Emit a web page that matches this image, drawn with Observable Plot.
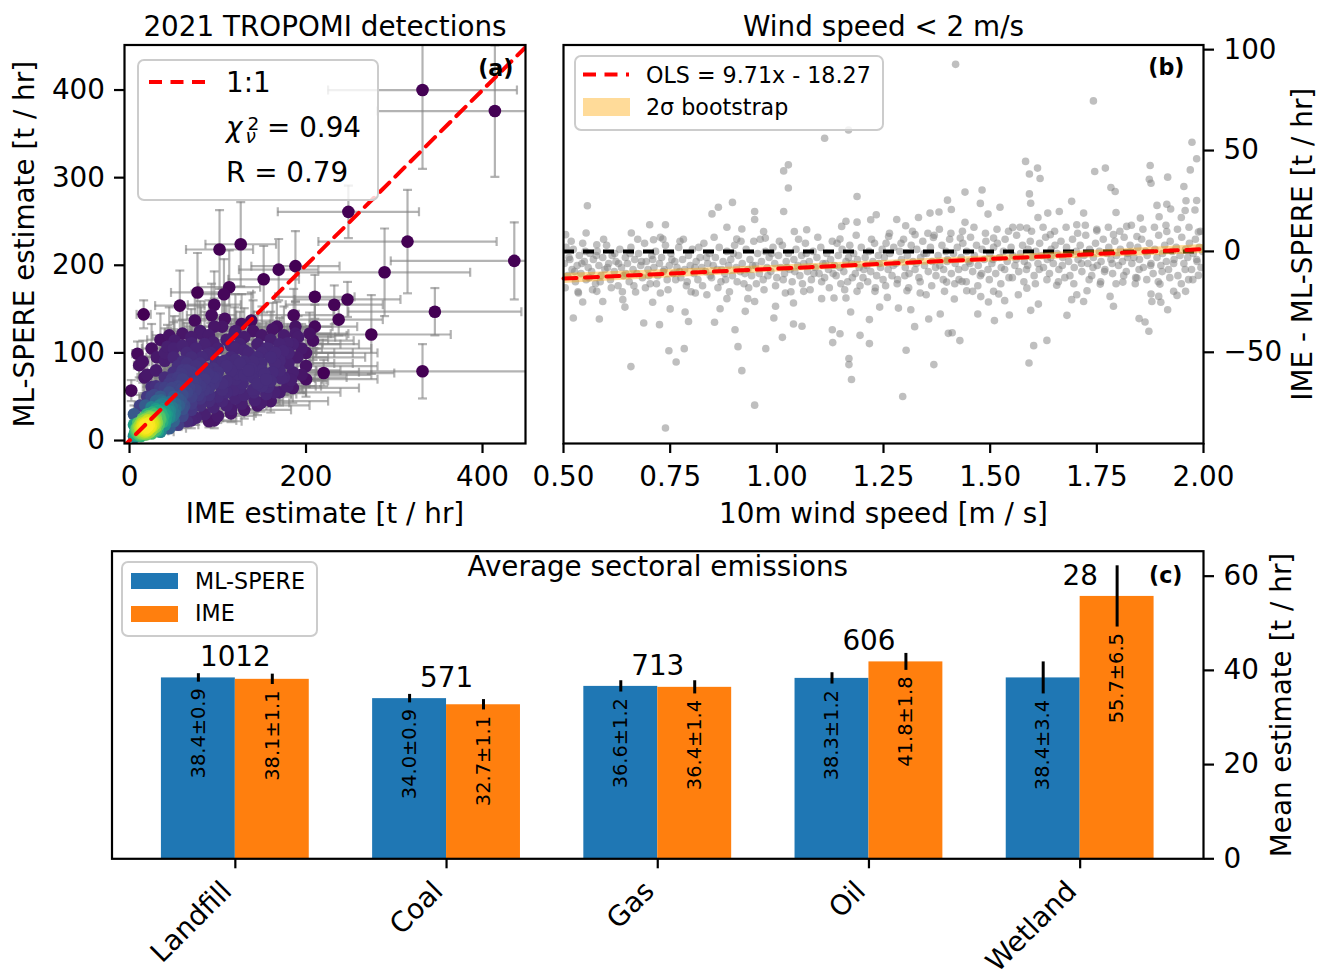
<!DOCTYPE html>
<html><head><meta charset="utf-8">
<script src="https://cdn.jsdelivr.net/npm/d3@7"></script>
<script src="https://cdn.jsdelivr.net/npm/@observablehq/plot@0.6"></script>
<style>
body{margin:0;background:#fff;}
#fig{position:relative;width:1319px;height:969px;overflow:hidden;background:#fff;font-family:"DejaVu Sans",sans-serif;}
#fig svg{position:absolute;left:0;top:0;}
</style></head><body><div id="fig"></div><script>
// ================= DATA =================
// Panel (a): [IME estimate, ML-SPERE estimate, IME error, ML-SPERE error]  (t/hr)
const imeDetections = [
[332,400,107,90],[414,376,133,75],[248,261,80,30],[315,227,101,59],[436,205,140,44],[289,192,97,50],
[346,147,98,27],[274,121,90,45],[332,79,120,31],[220,77,80,15],[247,161,60,20],[232,155,55,22],
[237,138,50,18],[210,164,45,25],[188,199,50,40],[169,195,45,35],[152,184,40,38],[126,224,40,48],
[102,218,38,45],[77,169,30,45],[57,154,28,40],[16,144,8,16],[113,175,35,42],[107,167,33,40],
[96,155,30,38],[186,143,45,30],[188,130,42,28],[210,130,48,25],[204,122,44,24],[208,114,46,22],
[188,122,40,26],[162,127,38,30],[167,130,40,28],[157,105,38,25],[138,137,35,32],[191,118,42,24],
[179,111,40,22],[174,102,38,20],[183,69,40,14],[179,62,38,12],[164,55,36,12],[155,53,34,11],
[149,43,32,10],[141,55,32,12],[115,36,28,9],[138,82,32,18],[153,76,34,16],[162,78,36,16],
[170,91,38,18],[149,88,34,18],[9,99,6,14],[11,86,6,14],[2,57,4,12],[31,95,12,22],[43,107,15,25],
[51,114,18,28],[60,122,20,30],[74,137,25,34],[93,143,28,36],[108,139,30,35],[127,133,32,34],
[81,122,25,30],[96,130,28,32],[119,122,30,30],[70,111,22,28],[40,91,14,22],[17,72,8,18],
[25,61,10,16],[36,46,12,14],[51,31,16,11],[70,23,20,9],[96,23,25,9],[115,31,28,10],[127,42,30,12],
[142,46,32,13],[157,61,35,15],[172,71,38,16],[123,76,30,18],[108,91,28,22],[130,103,32,25],
[89,76,25,18],[59,76,18,18],[32,11,12,6],[17,8,8,5],[6,4,4,4],
[8,6,5,4],[12,10,6,5],[15,12,7,6],[18,14,8,6],[20,16,9,7],[14,8,6,5],[10,12,5,6],[22,18,10,8],
[16,16,7,7],[25,20,11,8],[12,14,6,6],[18,10,8,5],[24,15,10,7],[20,22,9,9],[28,22,12,9],[6,8,4,5],
[9,9,5,5],[13,5,6,4],[17,19,8,8],[21,12,9,6],[26,25,11,10],[30,26,13,10],[11,16,6,7],[15,20,7,8],
[19,7,8,4],[23,10,10,5],[27,17,12,8],[31,20,13,8],[8,14,5,6],[34,28,14,11],[36,32,15,12],
[40,30,17,12],[38,36,16,13],[44,34,18,13],[42,40,18,15],[48,38,20,14],[46,44,20,16],[52,42,22,15],
[55,48,23,17],[50,50,21,18],[58,45,24,16],[60,52,25,18],[35,24,15,10],[40,22,17,9],[32,34,14,13],
[28,30,12,12],[45,28,19,11],[50,32,21,12],[62,40,26,15],[65,55,27,19],[70,50,29,18],[68,60,28,21],
[75,58,31,20],[72,66,30,23],[80,62,33,22],[85,70,35,24],[78,75,32,26],[90,60,37,21],[95,72,39,25],
[88,82,36,28],[100,78,41,27],[105,65,43,23],[110,85,45,29],[98,90,40,31],[92,100,38,34],
[115,95,47,32],[120,70,49,24],[60,70,25,24],[55,62,23,22],[65,80,27,27],[75,85,31,29],[82,95,34,32],
[70,95,29,32],[55,85,23,29],[48,70,20,24],[40,60,17,21],[30,45,13,16],[25,38,11,14],[35,50,15,18],
[45,55,19,19],[20,30,9,11],[15,25,7,10],[10,20,5,8],[30,12,13,6],[40,18,17,8],[50,22,21,9],
[60,28,25,11],[70,35,29,13],[80,40,33,15],[90,45,37,16],[100,50,41,18],[110,55,45,19],[125,60,51,21],
[130,75,53,26],[140,90,57,31],[135,100,55,34],[125,110,51,37],[110,115,45,39],[100,105,41,36],
[85,110,35,37],[75,105,31,36],[65,100,27,34],[60,90,25,31],[50,95,21,32],[145,65,59,23],[150,80,61,27],
[160,95,65,32],[145,110,59,37],[120,125,49,42],[90,120,37,40],[105,130,43,43],
[14,13,6,5],[16,11,7,5],[13,11,6,5],[17,13,7,6],[15,15,7,6],[19,12,8,6],[11,9,5,4],[22,14,9,6],
[14,17,6,7],[18,17,8,7],[12,7,6,4],[21,19,9,8],[24,21,10,8],[26,19,11,8],[16,9,7,5],[9,12,5,5],
[27,24,12,9],[33,27,14,10],[23,26,10,10],[29,19,12,8],
[110,40,45,12],[120,48,49,14],[130,52,53,15],[140,58,57,17],[150,62,61,18],[160,68,65,20],[170,80,69,22],
[180,88,73,24],[190,95,77,26],[195,105,79,28],[180,100,73,27],[170,110,69,30],[160,115,65,32],
[150,120,61,33],[140,125,57,35],[130,118,53,33],[120,105,49,30],[115,80,47,23],[125,88,51,25],
[135,80,55,23],[145,95,59,27],[155,105,63,30],[165,88,67,25],[175,72,71,20],[185,78,75,22],
[200,85,81,24],[195,75,79,21],[155,70,63,20],[140,72,57,20],[128,65,52,18],[118,58,48,16],
[105,45,43,13],[95,38,39,11],[85,30,35,9],[75,26,31,8],[65,22,27,7],[55,18,23,6],[45,14,19,5],
[35,10,15,4],[25,8,11,4],[90,52,37,15],[80,48,33,14],[70,42,29,12],[60,36,25,11],[105,58,43,16],
[95,65,39,18],[85,58,35,16],[75,68,31,19],[105,88,43,25],[95,82,39,23],[80,88,33,25],[70,78,29,22],
[60,80,25,23],[50,78,21,22],[40,72,17,20],[30,62,13,18],[20,50,9,14],[12,40,6,12],[5,30,4,10],
[5,18,4,7],[25,50,11,15],[35,60,15,18],[45,65,19,19],[55,72,23,21],[65,88,27,25],[50,105,21,30],
[40,100,17,28],[30,80,13,23],[20,75,9,21],[15,90,7,24],[25,105,11,28],[35,115,15,30],[45,120,19,32],
[60,108,25,30],[70,118,29,32],[80,125,33,34],[95,112,39,31],[115,108,47,30],[130,90,53,25],
[150,100,61,28],[165,100,67,28],[175,120,71,33],[185,110,75,30],[200,100,81,28],[200,70,81,20],
[185,60,75,17],[170,55,69,15],[160,45,65,13],[145,40,59,11],[130,35,53,10],[100,28,41,8],[90,22,37,7],
[110,68,45,19],[120,92,49,26],[88,98,36,28],[60,60,25,18],[48,60,20,17],[28,52,12,15],[18,40,8,12],
[38,42,16,12],[58,58,24,16],[78,52,32,15],[98,72,40,20],
[5,5,4,3],[7,10,4,4],[10,7,5,4],[13,15,6,6],[16,13,7,5],[18,18,8,7],[20,13,9,6],[22,20,10,8],
[24,17,10,7],[26,22,11,9],[28,26,12,10],[30,23,13,9],[32,28,14,10],[34,25,15,10],[36,30,15,11],
[38,27,16,10],[40,34,17,12],[42,30,18,11],[44,38,18,13],[46,34,19,12],[12,18,6,7],[10,15,5,6],
[8,11,5,5],[14,22,6,8],[18,24,8,9],[22,28,10,10],[26,32,11,11],[30,36,13,12],[34,40,14,13],
[38,44,16,14],[21,9,9,5],[25,12,11,6],[29,15,12,7],[33,18,14,8],[37,21,15,9],[41,24,17,9],
[45,26,19,10],[49,28,20,10],[52,36,22,12],[56,40,23,13],[19,15,8,6],[17,11,7,5],[15,17,7,7],
[23,16,10,7],[21,23,9,9],[27,20,12,8],[11,11,5,5],[13,9,6,4],[9,14,5,6],[24,27,10,10]
];
const oneToOne = [-10, 460];

// Panel (b): [10 m wind speed (m/s), IME - ML-SPERE (t/hr)]
const windOutliers = [
[1.168,60.2],[1.112,56.1],[1.027,42.9],[1.016,39.9],[1.027,31.4],[0.556,22.6],[1.188,27.2],[0.896,24.3],
[0.863,21.9],[0.848,18.6],[0.948,19.8],[0.948,15.8],[1.016,19.8],[1.233,18.2],[0.702,13.2],[0.739,13.2],
[0.883,12.0],[0.918,11.1],[0.659,9.1],[0.553,9.1],[0.505,8.3],[0.969,9.9],[1.041,9.9],[1.07,10.7],
[1.152,12.4],[1.162,14.9],[1.188,14.5],[1.22,15.7],[0.773,5.0],[0.733,6.1],[0.711,5.8],[0.578,3.3],
[0.906,6.1],[0.973,6.6],[1.148,6.1],
[0.739,-87.5],[0.948,-76.2],[0.658,-57.1],[0.764,-54.8],[0.918,-59.1],[0.747,-49.2],[0.783,-48.2],
[0.909,-47.2],[0.974,-48.2],[1.175,-63.5],[1.169,-56.1],[1.169,-53.1],[1.131,-45.2],[1.148,-40.8],
[1.13,-38.8],[1.195,-41.6],[1.217,-45.7],[0.523,-33.0],[0.584,-33.5],[0.688,-35.5],[0.725,-36.3],
[0.902,-38.8],[1.013,-42.6],[1.039,-36.0],[1.059,-37.1],[1.217,-33.8],[0.854,-35.1],[0.793,-34.7],
[0.993,-33.0],[1.173,-30.0],[0.644,-27.6],[0.709,-25.2],[0.75,-28.5],[0.785,-30.0],[0.867,-28.4],
[0.926,-29.7],[0.948,-24.8],[0.997,-27.2],[1.039,-25.6],[1.105,-23.4],[1.134,-23.1],[1.162,-23.1],
[1.241,-27.6],[0.545,-25.1],[0.592,-24.8],[0.639,-23.9],[0.669,-20.1],[0.836,-21.5],[0.883,-23.4],
[0.932,-23.4],[0.535,-20.6],[0.578,-19.8],[0.727,-20.6],[0.809,-20.6],[1.02,-20.6],[1.063,-19.8],
[1.188,-19.8],[1.23,-19.8],
[1.419,92.7],[1.742,74.6],[1.973,54.1],[1.984,45.9],[1.969,40.4],[1.954,32.2],[1.875,42.6],[1.916,36.8],
[1.873,35.8],[1.877,33.8],[1.745,39.6],[1.77,41.3],[1.583,44.6],[1.592,38.4],[1.611,41.3],[1.617,36.1],
[1.592,28.5],[1.595,23.9],[1.783,31.7],[1.793,29.7],[1.441,29.4],[1.481,30.4],[1.477,23.8],[1.4,25.4],
[1.409,20.8],[1.523,21.9],[1.691,24.8],[1.635,19.0],[1.662,19.8],[1.719,19.0],[1.795,19.3],[1.891,22.8],
[1.914,23.4],[1.923,21.0],[1.959,25.1],[1.984,25.2],[1.98,20.5],[1.957,20.3],[1.281,15.8],[1.332,16.8],
[1.359,19.0],[1.38,19.5],[1.441,14.4],[1.495,18.5],[1.612,16.8],[1.703,13.2],[1.82,12.4],[1.852,16.5],
[1.896,17.2],[1.948,16.8],[1.302,12.7],[1.553,11.9],[1.586,11.6],[1.262,7.4],[1.324,8.3],[1.367,6.9],
[1.43,6.6],[1.508,6.6],[1.641,8.3],[1.75,10.2],[1.789,8.3],[1.844,7.4],[1.914,9.9],[1.988,9.6],
[1.295,-71.9],[1.368,-56.1],[1.303,-49.0],[1.591,-55.3],[1.602,-46.7],[1.633,-44.1],[1.402,-40.6],
[1.411,-40.3],[1.429,-44.2],[1.323,-37.3],[1.863,-35.0],[1.872,-39.6],[1.849,-33.3],[1.356,-33.5],
[1.51,-34.3],[1.545,-31.5],[1.68,-31.7],[1.471,-31.0],[1.383,-31.0],[1.285,-28.1],[1.314,-28.9],
[1.595,-29.2],[1.789,-27.2],[1.916,-28.9],[1.259,-22.8],[1.305,-19.5],[1.416,-23.6],[1.445,-19.5],
[1.459,-19.8],[1.478,-22.4],[1.496,-25.1],[1.52,-21.1],[1.534,-24.4],[1.566,-21.5],[1.613,-26.1],
[1.691,-23.9],[1.703,-21.5],[1.719,-24.8],[1.727,-19.5],[1.781,-22.3],[1.879,-24.8],[1.877,-21.1],
[1.895,-22.3],[1.9,-25.2],[1.938,-21.8],[1.958,-19.8],[1.336,-20.6],[1.35,-21.5],[1.398,-15.2],
[1.393,-19.8],[1.434,-14.9],[1.508,-19.8],[1.586,-18.2],[1.656,-16.8],[1.758,-16.2],[1.811,-15.2],
[1.844,-13.2],[1.898,-16.2],[1.93,-19.8],[1.988,-11.9],[1.965,-14.0]
];
const windCore = [
[0.502,-6],[0.506,2],[0.51,-12],[0.515,-4],[0.52,-9],[0.523,1],[0.528,-15],[0.532,-7],[0.537,-2],[0.541,-11],
[0.545,4],[0.549,-5],[0.553,-14],[0.558,-8],[0.562,-1],[0.566,-10],[0.57,-4],[0.575,-16],[0.579,0],[0.583,-7],
[0.588,-12],[0.592,-3],[0.597,-9],[0.601,3],[0.606,-6],[0.61,-14],[0.614,-2],[0.619,-10],[0.623,-5],[0.628,-17],
[0.632,1],[0.636,-8],[0.641,-12],[0.645,-3],[0.65,-6],[0.654,-15],[0.658,2],[0.663,-9],[0.667,-4],[0.672,-11],
[0.676,-1],[0.681,-7],[0.685,-13],[0.69,4],[0.694,-5],[0.698,-9],[0.703,-16],[0.707,-2],[0.712,-8],[0.716,0],
[0.721,-12],[0.725,-6],[0.73,-3],[0.734,-10],[0.739,3],[0.743,-14],[0.748,-7],[0.752,-1],[0.757,-11],[0.761,-5],
[0.766,-8],[0.77,2],[0.775,-13],[0.779,-4],[0.784,-9],[0.788,-17],[0.793,-2],[0.797,-7],[0.802,1],[0.806,-11],
[0.811,-5],[0.815,-14],[0.82,-3],[0.824,-8],[0.829,4],[0.833,-10],[0.838,-6],[0.842,-1],[0.847,-13],[0.851,-7],
[0.856,-3],[0.86,-9],[0.865,2],[0.869,-15],[0.874,-5],[0.878,-11],[0.883,0],[0.887,-7],[0.892,-4],[0.896,-12],
[0.901,3],[0.905,-8],[0.91,-2],[0.914,-10],[0.919,-6],[0.923,-16],[0.928,1],[0.932,-9],[0.937,-4],[0.941,-12],
[0.946,5],[0.95,-7],[0.955,-1],[0.959,-11],[0.964,-5],[0.968,-14],[0.973,0],[0.977,-8],[0.982,-3],[0.986,-10],
[0.991,2],[0.995,-6],[1.0,-13],[1.004,-2],[1.009,-8],[1.013,3],[1.018,-11],[1.022,-5],[1.027,-1],[1.031,-9],
[1.036,-15],[1.04,-4],[1.045,1],[1.049,-7],[1.054,-12],[1.058,-2],[1.063,-6],[1.067,4],[1.072,-10],[1.076,-5],
[1.081,-14],[1.085,0],[1.09,-8],[1.094,-3],[1.099,-11],[1.103,2],[1.108,-6],[1.112,-13],[1.117,-1],[1.121,-9],
[1.126,-4],[1.13,5],[1.135,-7],[1.139,-12],[1.144,-2],[1.148,-8],[1.153,1],[1.157,-10],[1.162,-5],[1.166,-15],
[1.171,3],[1.175,-6],[1.18,-1],[1.184,-11],[1.189,-4],[1.193,-8],[1.198,2],[1.202,-13],[1.207,-3],[1.211,-7],
[1.216,0],[1.22,-10],[1.225,-5],[1.229,4],[1.234,-12],[1.238,-2],[1.243,-8],[1.247,1],
[1.252,-3],[1.256,4],[1.261,-9],[1.265,-1],[1.27,-12],[1.274,2],[1.279,-6],[1.283,-14],[1.288,0],[1.292,-4],
[1.297,6],[1.301,-8],[1.306,-2],[1.31,-11],[1.315,3],[1.319,-5],[1.324,-9],[1.328,1],[1.333,-13],[1.337,-3],
[1.342,5],[1.346,-7],[1.351,-1],[1.355,-10],[1.36,2],[1.364,-5],[1.369,8],[1.373,-12],[1.378,-2],[1.382,-7],
[1.387,3],[1.391,-9],[1.396,0],[1.4,-4],[1.405,6],[1.409,-11],[1.414,-1],[1.418,-6],[1.423,2],[1.427,-14],
[1.432,-3],[1.436,4],[1.441,-8],[1.445,0],[1.45,-5],[1.454,7],[1.459,-10],[1.463,-2],[1.468,3],[1.472,-7],
[1.477,-12],[1.481,1],[1.486,-4],[1.49,5],[1.495,-9],[1.499,-1],[1.504,-6],[1.508,2],[1.513,-11],[1.517,4],
[1.522,-3],[1.526,-8],[1.531,0],[1.535,6],[1.54,-5],[1.544,-13],[1.549,2],[1.553,-2],[1.558,-7],[1.562,8],
[1.567,-10],[1.571,-1],[1.576,3],[1.58,-5],[1.585,-9],[1.589,1],[1.594,5],[1.598,-3],[1.603,-12],[1.607,0],
[1.612,-6],[1.616,4],[1.621,-2],[1.625,-8],[1.63,7],[1.634,-4],[1.639,-11],[1.643,1],[1.648,-6],[1.652,3],
[1.657,-1],[1.661,-9],[1.666,5],[1.67,-3],[1.675,-13],[1.679,2],[1.684,-5],[1.688,-1],[1.693,6],[1.697,-8],
[1.702,0],[1.706,-4],[1.711,3],[1.715,-10],[1.72,-2],[1.724,8],[1.729,-6],[1.733,1],[1.738,-12],[1.742,-3],
[1.747,4],[1.751,-7],[1.756,0],[1.76,-5],[1.765,6],[1.769,-9],[1.774,-1],[1.778,2],[1.783,-4],[1.787,-11],
[1.792,5],[1.796,-2],[1.801,-7],[1.805,1],[1.81,-5],[1.814,7],[1.819,-10],[1.823,-1],[1.828,3],[1.832,-6],
[1.837,-3],[1.841,-13],[1.846,2],[1.85,-4],[1.855,6],[1.859,-8],[1.864,0],[1.868,-2],[1.873,4],[1.877,-6],
[1.882,-11],[1.886,1],[1.891,-3],[1.895,8],[1.9,-7],[1.904,-1],[1.909,3],[1.913,-5],[1.918,-9],[1.922,5],
[1.927,0],[1.931,-4],[1.936,2],[1.94,-12],[1.945,-2],[1.949,7],[1.954,-6],[1.958,1],[1.963,-3],[1.967,4],
[1.972,-9],[1.976,-1],[1.981,6],[1.985,-5],[1.99,2],[1.994,-8],[1.998,0]
];
const windCoreWide = [
[0.504,-18],[0.513,-3],[0.518,5],[0.526,-10],[0.534,-20],[0.543,-6],[0.551,0],[0.56,-13],[0.568,-19],[0.577,-2],
[0.586,-15],[0.594,6],[0.603,-8],[0.612,-18],[0.62,-1],[0.629,-6],[0.638,-20],[0.646,-11],[0.656,-1],[0.665,-17],
[0.674,6],[0.683,-5],[0.692,-18],[0.7,-12],[0.709,-4],[0.718,-16],[0.727,7],[0.736,-9],[0.745,-19],[0.754,-4],
[0.763,-14],[0.772,-10],[0.781,6],[0.79,-15],[0.799,-20],[0.808,-8],[0.817,2],[0.826,-17],[0.835,-3],[0.844,-12],
[0.853,7],[0.862,-18],[0.871,-9],[0.88,-14],[0.889,-20],[0.898,-1],[0.907,-15],[0.916,5],[0.925,-11],[0.934,-18],
[0.943,-7],[0.952,-16],[0.961,6],[0.97,-19],[0.979,-12],[0.988,-1],[0.997,-17],[1.006,5],[1.015,-14],[1.024,-8],
[1.033,-20],[1.042,-10],[1.051,6],[1.06,-16],[1.069,-1],[1.078,-19],[1.087,-11],[1.096,7],[1.105,-15],[1.114,-6],
[1.123,-18],[1.132,-11],[1.141,4],[1.15,-16],[1.159,-19],[1.168,-3],[1.177,-13],[1.186,8],[1.195,-17],[1.204,-9],
[1.213,-15],[1.222,6],[1.231,-18],[1.24,-6],[1.249,-14],
[1.255,-17],[1.264,9],[1.273,-7],[1.282,-16],[1.291,4],[1.3,-12],[1.309,-18],[1.318,10],[1.327,-6],[1.336,-15],
[1.345,-1],[1.354,9],[1.363,-17],[1.372,-8],[1.381,11],[1.39,-14],[1.399,-5],[1.408,9],[1.417,-16],[1.426,-9],
[1.435,10],[1.444,-15],[1.453,-6],[1.462,12],[1.471,-17],[1.48,-11],[1.489,9],[1.498,-14],[1.507,-4],[1.516,11],
[1.525,-16],[1.534,-9],[1.543,10],[1.552,-13],[1.561,-4],[1.57,12],[1.579,-15],[1.588,-7],[1.597,10],[1.606,-16],
[1.615,-9],[1.624,12],[1.633,-14],[1.642,-3],[1.651,10],[1.66,-15],[1.669,-7],[1.678,12],[1.687,-12],[1.696,-16],
[1.705,9],[1.714,-6],[1.723,13],[1.732,-14],[1.741,-8],[1.75,11],[1.759,-15],[1.768,-10],[1.777,12],[1.786,-6],
[1.795,-16],[1.804,10],[1.813,-12],[1.822,-3],[1.831,13],[1.84,-16],[1.849,-9],[1.858,11],[1.867,-14],[1.876,-7],
[1.885,12],[1.894,-15],[1.903,-10],[1.912,13],[1.921,-13],[1.93,-6],[1.939,11],[1.948,-16],[1.957,-9],[1.966,12],
[1.975,-14],[1.984,-4],[1.993,10]
];
const olsSlope = 9.71, olsIntercept = -18.27;
const olsX = [0.5, 2.0];
const bandX  = [0.5, 1.0, 1.5, 2.0];
const bandLo = [-15.9, -10.2, -5.2, -1.0];
const bandHi = [-10.9, -6.9, -2.2, 3.4];

// Panel (c)
const sectors = ["Landfill", "Coal", "Gas", "Oil", "Wetland"];
const mlMean  = [38.4, 34.0, 36.6, 38.3, 38.4];
const mlErr   = [0.9, 0.9, 1.2, 1.2, 3.4];
const imeMean = [38.1, 32.7, 36.4, 41.8, 55.7];
const imeErr  = [1.1, 1.1, 1.4, 1.8, 6.5];
const counts  = [1012, 571, 713, 606, 28];

// ================= DRAWING =================
const W = 1319, H = 969, FS = 27.8, FSS = 22.2;
const fig = document.getElementById("fig");
const baseStyle = {fontFamily: "'DejaVu Sans', sans-serif", fontSize: FS + "px", background: "transparent", overflow: "visible"};
const RED_DASH = "13,8.5";
const ax = {tickSize: 10, strokeWidth: 2.2, label: null, fontSize: FS};

// ---- Panel (a)
const det = imeDetections.map(([x, y, xe, ye]) => ({x, y, xe, ye}));
const bw = 11;
for (const d of det) d.dens = d3.sum(det, e => Math.exp(-((d.x - e.x) ** 2 + (d.y - e.y) ** 2) / (2 * bw * bw)));
det.sort((a, b) => a.dens - b.dens);
const capH = {draw(c) { c.moveTo(-4.5, 0); c.lineTo(4.5, 0); }};
const capV = {draw(c) { c.moveTo(0, -4.5); c.lineTo(0, 4.5); }};
const eb = {stroke: "gray", strokeOpacity: 0.6, strokeWidth: 2.2, clip: true};

const A = {l: 124, r: 525, t: 44.5, b: 443};
fig.append(Plot.plot({
  width: W, height: H, marginLeft: A.l, marginRight: W - A.r, marginTop: A.t, marginBottom: H - A.b,
  style: baseStyle,
  x: {domain: [-5.7, 448.7]}, y: {domain: [-3.4, 451.4]},
  color: {type: "linear", scheme: "viridis"},
  marks: [
    Plot.ruleX(det, {x: "x", y1: d => d.y - d.ye, y2: d => d.y + d.ye, ...eb}),
    Plot.ruleY(det, {y: "y", x1: d => d.x - d.xe, x2: d => d.x + d.xe, ...eb}),
    Plot.dot(det, {x: "x", y: d => d.y - d.ye, symbol: capH, fill: "none", ...eb}),
    Plot.dot(det, {x: "x", y: d => d.y + d.ye, symbol: capH, fill: "none", ...eb}),
    Plot.dot(det, {x: d => d.x - d.xe, y: "y", symbol: capV, fill: "none", ...eb}),
    Plot.dot(det, {x: d => d.x + d.xe, y: "y", symbol: capV, fill: "none", ...eb}),
    Plot.dot(det, {x: "x", y: "y", r: 6.3, fill: "dens", clip: true}),
    Plot.line(oneToOne, {x: d => d, y: d => d, stroke: "red", strokeWidth: 4, strokeDasharray: RED_DASH, clip: true}),
    Plot.axisX({...ax, ticks: [0, 200, 400], tickPadding: 12.5}),
    Plot.axisY({...ax, ticks: [0, 100, 200, 300, 400], tickPadding: 9.5}),
    Plot.frame({stroke: "black", strokeWidth: 2.2}),
    Plot.text(["2021 TROPOMI detections"], {text: d => d, frameAnchor: "top", dy: -18, lineAnchor: "middle", fontSize: FS}),
    Plot.text(["IME estimate [t / hr]"], {text: d => d, frameAnchor: "bottom", dy: 71, lineAnchor: "middle", fontSize: FS}),
    Plot.text(["ML-SPERE estimate [t / hr]"], {text: d => d, frameAnchor: "left", dx: -99, rotate: -90, lineAnchor: "middle", textAnchor: "middle", fontSize: FS}),
    Plot.text(["(a)"], {text: d => d, frameAnchor: "top-right", dx: -12, dy: 23.5, textAnchor: "end", lineAnchor: "middle", fontWeight: "bold", fontSize: FSS})
  ]
}));

// ---- Panel (b)
const windPoints = windOutliers.concat(windCore, windCoreWide);
const bandRows = bandX.map((x, i) => ({x, lo: bandLo[i], hi: bandHi[i]}));
const B = {l: 563, r: 1203, t: 44.5, b: 443};
fig.append(Plot.plot({
  width: W, height: H, marginLeft: B.l, marginRight: W - B.r, marginTop: B.t, marginBottom: H - B.b,
  style: baseStyle,
  x: {domain: [0.5, 2.0]}, y: {domain: [-95.2, 102.3]},
  marks: [
    Plot.dot(windPoints, {x: d => d[0], y: d => d[1], r: 3.8, fill: "gray", fillOpacity: 0.5, clip: true}),
    Plot.ruleY([0], {stroke: "black", strokeWidth: 4, strokeDasharray: "11,9"}),
    Plot.areaY(bandRows, {x: "x", y1: "lo", y2: "hi", fill: "orange", fillOpacity: 0.4}),
    Plot.line(olsX, {x: d => d, y: d => olsSlope * d + olsIntercept, stroke: "red", strokeWidth: 4, strokeDasharray: RED_DASH}),
    Plot.axisX({...ax, ticks: [0.5, 0.75, 1.0, 1.25, 1.5, 1.75, 2.0], tickFormat: d3.format(".2f"), tickPadding: 12.5}),
    Plot.axisY({...ax, anchor: "right", ticks: [-50, 0, 50, 100], tickPadding: 10}),
    Plot.frame({stroke: "black", strokeWidth: 2.2}),
    Plot.text(["Wind speed < 2 m/s"], {text: d => d, frameAnchor: "top", dy: -18, lineAnchor: "middle", fontSize: FS}),
    Plot.text(["10m wind speed [m / s]"], {text: d => d, frameAnchor: "bottom", dy: 71, lineAnchor: "middle", fontSize: FS}),
    Plot.text(["IME - ML-SPERE [t / hr]"], {text: d => d, frameAnchor: "right", dx: 100, rotate: -90, lineAnchor: "middle", textAnchor: "middle", fontSize: FS}),
    Plot.text(["(b)"], {text: d => d, frameAnchor: "top-right", dx: -19, dy: 22.5, textAnchor: "end", lineAnchor: "middle", fontWeight: "bold", fontSize: FSS})
  ]
}));

// ---- Panel (c)
const mlBars = sectors.map((s, i) => ({i, v: mlMean[i], e: mlErr[i]}));
const imeBars = sectors.map((s, i) => ({i, v: imeMean[i], e: imeErr[i]}));
const countRows = sectors.map((s, i) => ({i, n: counts[i], top: Math.max(mlMean[i], imeMean[i])}));
const BW = 0.35;
const fmt = d => `${d.v.toFixed(1)}±${d.e.toFixed(1)}`;
const C = {l: 111.5, r: 1203, t: 550.7, b: 858.3};
fig.append(Plot.plot({
  width: W, height: H, marginLeft: C.l, marginRight: W - C.r, marginTop: C.t, marginBottom: H - C.b,
  style: baseStyle,
  x: {domain: [-0.584, 4.584]}, y: {domain: [0, 65.3]},
  marks: [
    Plot.rect(mlBars, {x1: d => d.i - BW, x2: d => d.i, y1: () => 0, y2: "v", fill: "#1f77b4"}),
    Plot.rect(imeBars, {x1: d => d.i, x2: d => d.i + BW, y1: () => 0, y2: "v", fill: "#ff7f0e"}),
    Plot.ruleX(mlBars, {x: d => d.i - BW / 2, y1: d => d.v - d.e, y2: d => d.v + d.e, stroke: "black", strokeWidth: 3}),
    Plot.ruleX(imeBars, {x: d => d.i + BW / 2, y1: d => d.v - d.e, y2: d => d.v + d.e, stroke: "black", strokeWidth: 3}),
    Plot.text(mlBars, {x: d => d.i - BW / 2, y: d => d.v - d.e, text: fmt, rotate: -90, textAnchor: "end", lineAnchor: "middle", dy: 6, fontSize: 19.4}),
    Plot.text(imeBars, {x: d => d.i + BW / 2, y: d => d.v - d.e, text: fmt, rotate: -90, textAnchor: "end", lineAnchor: "middle", dy: 6, fontSize: 19.4}),
    Plot.text(countRows, {x: "i", y: "top", text: d => String(d.n), lineAnchor: "middle", dy: -20.7, fontSize: FS}),
    Plot.axisX({...ax, ticks: [0, 1, 2, 3, 4], tickFormat: () => ""}),
    Plot.text(sectors, {x: (d, i) => i, text: d => d, frameAnchor: "bottom", dy: 20, dx: -16, rotate: -45, textAnchor: "end", lineAnchor: "top", fontSize: FS}),
    Plot.axisY({...ax, anchor: "right", ticks: [0, 20, 40, 60], tickPadding: 10}),
    Plot.frame({stroke: "black", strokeWidth: 2.2}),
    Plot.text(["Average sectoral emissions"], {text: d => d, frameAnchor: "top", dy: 16, lineAnchor: "middle", fontSize: FS}),
    Plot.text(["Mean estimate [t / hr]"], {text: d => d, frameAnchor: "right", dx: 79, rotate: -90, lineAnchor: "middle", textAnchor: "middle", fontSize: FS}),
    Plot.text(["(c)"], {text: d => d, frameAnchor: "top-right", dx: -21, dy: 24.3, textAnchor: "end", lineAnchor: "middle", fontWeight: "bold", fontSize: FSS})
  ]
}));

// ---- Legends (overlay)
const ov = d3.create("svg").attr("width", W).attr("height", H)
  .style("font-family", "'DejaVu Sans', sans-serif");
function box(x, y, w, h) {
  ov.append("rect").attr("x", x).attr("y", y).attr("width", w).attr("height", h).attr("rx", 6)
    .attr("fill", "white").attr("fill-opacity", 0.8).attr("stroke", "#cccccc").attr("stroke-width", 2);
}
function txt(x, y, s, size) {
  return ov.append("text").attr("x", x).attr("y", y).attr("font-size", size).attr("fill", "black").text(s);
}
// (a)
box(138, 60, 240, 140);
ov.append("line").attr("x1", 149).attr("x2", 206).attr("y1", 82).attr("y2", 82)
  .attr("stroke", "red").attr("stroke-width", 4).attr("stroke-dasharray", RED_DASH);
txt(226, 91.7, "1:1", FS);
const chi = ov.append("text").attr("x", 226).attr("y", 137).attr("font-size", FS).attr("fill", "black");
chi.append("tspan").attr("font-style", "italic").text("χ");
chi.append("tspan").attr("font-size", 18.5).attr("x", 247.5).attr("dy", -7.5).text("2");
chi.append("tspan").attr("font-size", 18.5).attr("font-style", "italic").attr("x", 245.5).attr("dy", 13.5).text("ν");
chi.append("tspan").attr("x", 267).attr("dy", -6).text("= 0.94");
txt(226, 181.7, "R = 0.79", FS);
// (b)
box(575, 56, 308, 74);
ov.append("line").attr("x1", 583).attr("x2", 629).attr("y1", 74.5).attr("y2", 74.5)
  .attr("stroke", "red").attr("stroke-width", 4).attr("stroke-dasharray", RED_DASH);
txt(646, 83.3, "OLS = 9.71x - 18.27", FSS);
ov.append("rect").attr("x", 583).attr("y", 98).attr("width", 47).attr("height", 18).attr("fill", "orange").attr("fill-opacity", 0.4);
txt(646, 115, "2σ bootstrap", FSS);
// (c)
box(122, 562, 195, 74);
ov.append("rect").attr("x", 131).attr("y", 573).attr("width", 47).attr("height", 16).attr("fill", "#1f77b4");
ov.append("rect").attr("x", 131).attr("y", 606).attr("width", 47).attr("height", 16).attr("fill", "#ff7f0e");
txt(195, 588.5, "ML-SPERE", FSS);
txt(195, 621, "IME", FSS);
fig.append(ov.node());
</script></body></html>
